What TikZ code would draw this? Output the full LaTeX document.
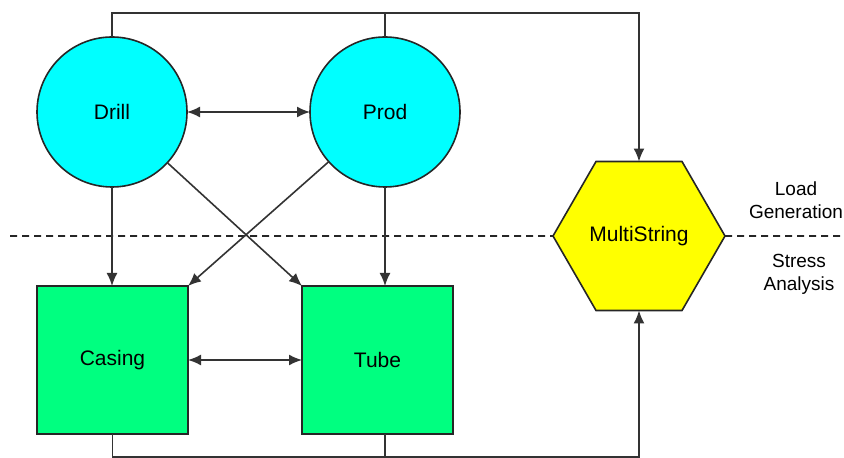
\documentclass[tikz,border=0pt]{standalone}
\usepackage{fontspec}
\setmainfont{Liberation Sans}
\usetikzlibrary{arrows.meta, shapes.geometric}

\definecolor{aqua}{RGB}{0,255,255}
\definecolor{spring}{RGB}{0,255,128}
\definecolor{lemon}{RGB}{255,255,0}

\tikzset{
  link/.style={draw=black!80, line width=0.8pt},
  arr/.style={link, -{Latex[length=6.5pt,width=5.5pt]}},
  biarr/.style={link, {Latex[length=6.5pt,width=5.5pt]}-{Latex[length=6.5pt,width=5.5pt]}},
  module/.style={draw=black!85, line width=0.8pt, circle, fill=aqua, minimum size=75pt, inner sep=0pt, outer sep=0pt},
  solver/.style={draw=black!85, line width=0.8pt, rectangle, fill=spring, minimum width=75.5pt, minimum height=74pt, inner sep=0pt, outer sep=0pt},
  hub/.style={draw=black!85, line width=0.8pt, regular polygon, regular polygon sides=6, fill=lemon, minimum size=86pt, inner sep=0pt, outer sep=0pt},
  phase/.style={align=center, font=\fontsize{9.5}{11.5}\selectfont},
  divider/.style={draw=black!85, line width=0.8pt, dash pattern=on 3.5pt off 2.5pt}
}

\begin{document}
\begin{tikzpicture}[x=0.5pt, y=-0.5pt, font=\fontsize{10.5}{12}\selectfont]
  \useasboundingbox (0,0) rectangle (844,458);

  % modulos
  \node [module] (drill) at (112,112) {Drill};
  \node [module] (prod) at (385,112) {Prod};
  \node [solver] (casing) at (112.5,360) {Casing};
  \node [solver] (tube) at (377.5,360) {Tube};
  \node [hub] (multi) at (639,236) {MultiString};

  % fases
  \node [phase] (load) at (796,200) {Load\\Generation};
  \node [phase] (stress) at (799,274) {Stress\\Analysis};

  % rieles y divisor
  \coordinate (top) at (0,13);
  \coordinate (bot) at (0,457);
  \coordinate (dl) at (10,236);
  \coordinate (dr) at (844,236);
  \draw [divider] (dl) -- (multi.west);
  \draw [divider] (multi.east) -- (dr);

  % conexiones
  \path [arr] (drill.north) -- (drill.north |- top) -- (multi.north |- top) -- (multi.north);
  \path [link] (prod.north) -- (prod.north |- top);
  \path [arr] (casing.south) -- (casing.south |- bot) -- (multi.south |- bot) -- (multi.south);
  \path [link] (prod |- tube.south) -- (prod |- bot);
  \path [biarr] (drill) -- (prod);
  \path [biarr] (casing) -- (tube);
  \path [arr] (drill) -- (drill |- casing.north);
  \path [arr] (prod) -- (prod |- tube.north);
  \path [arr] (drill) -- (tube.north west);
  \path [arr] (prod) -- (casing.north east);
\end{tikzpicture}
\end{document}
